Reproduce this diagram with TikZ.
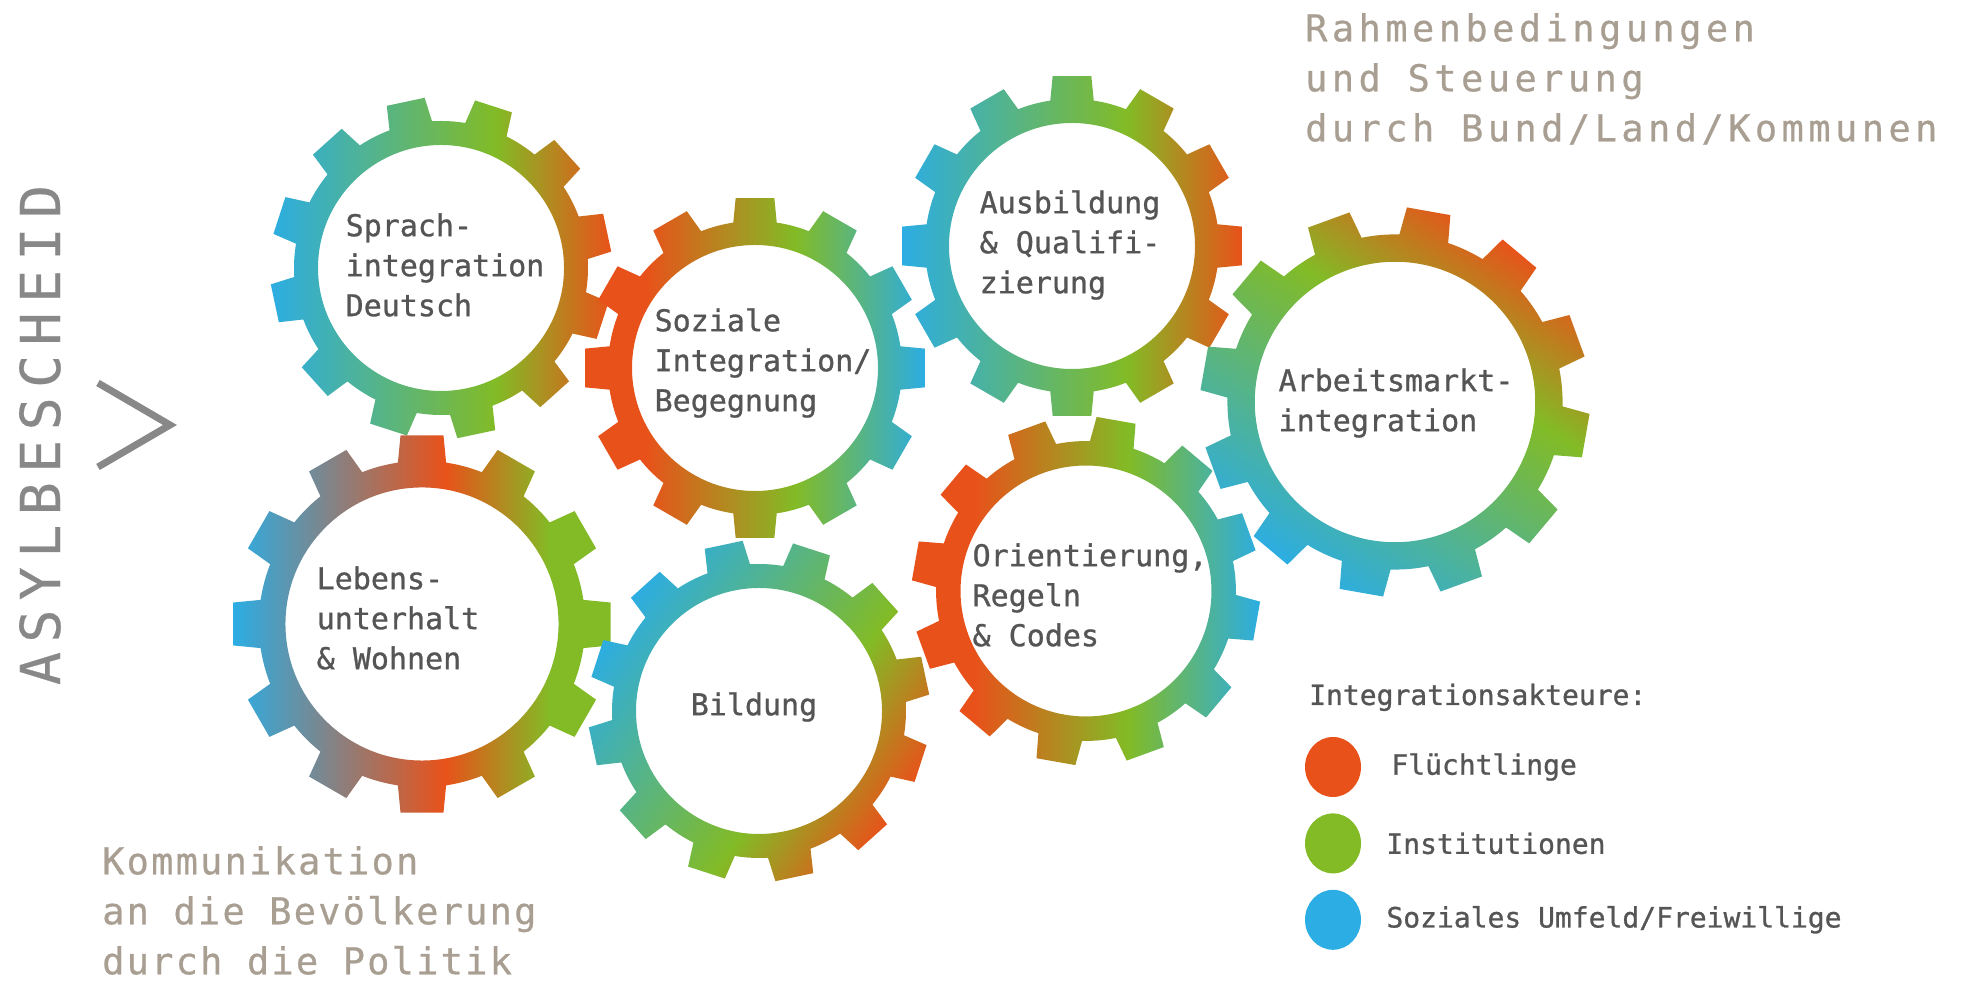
\documentclass[tikz,border=0pt]{standalone}
\usepackage{fontspec}
\setmonofont{DejaVu Sans Mono}
\newfontfamily\gearfont[FakeBold=0.9]{DejaVu Sans Mono}
\newfontfamily\widemono[LetterSpace=12,FakeBold=0.6]{DejaVu Sans Mono}
\newfontfamily\spacedmono[LetterSpace=6,FakeBold=0.6]{DejaVu Sans Mono}
\newfontfamily\asylmono[LetterSpace=17,FakeBold=0.4]{DejaVu Sans Mono}
\usetikzlibrary{positioning,shapes.geometric}

\definecolor{gblue}{RGB}{44,173,227}
\definecolor{ggreen}{RGB}{130,187,38}
\definecolor{gred}{RGB}{232,82,26}
\definecolor{txtgrey}{RGB}{85,85,85}
\definecolor{beige}{RGB}{168,158,145}
\definecolor{midgrey}{RGB}{136,136,136}

\pgfdeclarehorizontalshading{gradbgr}{100bp}{color(0bp)=(gblue); color(25bp)=(gblue); color(58bp)=(ggreen); color(75bp)=(gred); color(100bp)=(gred)}
\pgfdeclarehorizontalshading{gradrgb}{100bp}{color(0bp)=(gred); color(34bp)=(gred); color(56bp)=(ggreen); color(75bp)=(gblue); color(100bp)=(gblue)}
\pgfdeclarehorizontalshading{gradbog}{100bp}{color(0bp)=(gblue); color(25bp)=(gblue); color(53bp)=(gred); color(67bp)=(ggreen); color(100bp)=(ggreen)}

% #1 centre, #2 scale, #3 first tooth, #4 shading, #5 shading angle
\newcommand{\gearwheel}[5]{%
  \begin{scope}[transform canvas={shift={#1},rotate=#5}]
    \shade[shading=#4,even odd rule] ({#3-8.5}:{147*#2})
      \foreach \tooth in {0,...,11}{
        -- ({#3+30*\tooth-6.5}:{171*#2}) -- ({#3+30*\tooth+6.5}:{171*#2})
        -- ({#3+30*\tooth+8.5}:{147*#2})
        arc[start angle={#3+30*\tooth+8.5},end angle={#3+30*\tooth+21.5},radius={147*#2}]
      } -- cycle
      (0,0) circle[radius={123*#2}];
  \end{scope}}

\begin{document}
\begin{tikzpicture}[x=1pt,y=1pt,
    geartext/.style={font=\gearfont\fontsize{30}{40}\selectfont,text=txtgrey,align=left,inner sep=0pt},
    legendtext/.style={font=\gearfont\fontsize{28}{34}\selectfont,text=txtgrey,inner sep=0pt},
    dot/.style={ellipse,minimum width=56pt,minimum height=60pt,inner sep=0pt}]
    \useasboundingbox (0,0) rectangle (1968,981);

    \gearwheel{(441,713)}{1}{12}{gradbgr}{0}
    \gearwheel{(755,613)}{1}{0}{gradrgb}{0}
    \gearwheel{(1072,735)}{1}{0}{gradbgr}{0}
    \gearwheel{(1395,579)}{1.14}{23.5}{gradbgr}{56.5}
    \gearwheel{(422,357)}{1.11}{0}{gradbog}{0}
    \gearwheel{(759,270)}{1}{16}{gradbgr}{-34}
    \gearwheel{(1086,390)}{1.02}{20}{gradrgb}{0}

    \node [geartext] (sprach) at (445,716) {Sprach-\\integration\\Deutsch};
    \node [geartext] (soziale) at (763,618) {Soziale\\Integration/\\Begegnung};
    \node [geartext] (ausbildung) at (1070,736) {Ausbildung\\\& Qualifi-\\zierung};
    \node [geartext] (arbeit) at (1396,578) {Arbeitsmarkt-\\integration};
    \node [geartext] (lebens) at (398,363) {Lebens-\\unterhalt\\\& Wohnen};
    \node [geartext] (bildung) at (754,274) {Bildung};
    \node [geartext] (orient) at (1090,386) {Orientierung,\\Regeln\\\& Codes};

    \node [anchor=north west,align=left,inner sep=0pt,text=beige,font=\widemono\fontsize{37}{50}\selectfont] (rahmen) at (1305,968) {Rahmenbedingungen\\und Steuerung\\durch Bund/Land/Kommunen};
    \node [anchor=south west,align=left,inner sep=0pt,text=beige,font=\spacedmono\fontsize{37}{50}\selectfont] (kommu) at (102,6) {Kommunikation\\an die Bevölkerung\\durch die Politik};
    \node [rotate=90,anchor=base,inner sep=0pt,text=midgrey,font=\asylmono\fontsize{55}{55}\selectfont] (asyl) at (60,546) {ASYLBESCHEID};
    \draw [midgrey,line width=7pt] (98,598) -- (170,556) -- (98,514);

    \node [legendtext,anchor=base west] (akteure) at (1309,276) {Integrationsakteure:};
    \node [dot,fill=gred] (fl) at (1333,214) {};
    \node [dot,fill=ggreen,below=16pt of fl] (inst) {};
    \node [dot,fill=gblue,below=16pt of inst] (sozial) {};
    \node [legendtext,right=30pt of fl] (fltext) {Flüchtlinge};
    \node [legendtext,right=25pt of inst] (insttext) {Institutionen};
    \node [legendtext,right=25pt of sozial] (sozialtext) {Soziales Umfeld/Freiwillige};
\end{tikzpicture}
\end{document}
